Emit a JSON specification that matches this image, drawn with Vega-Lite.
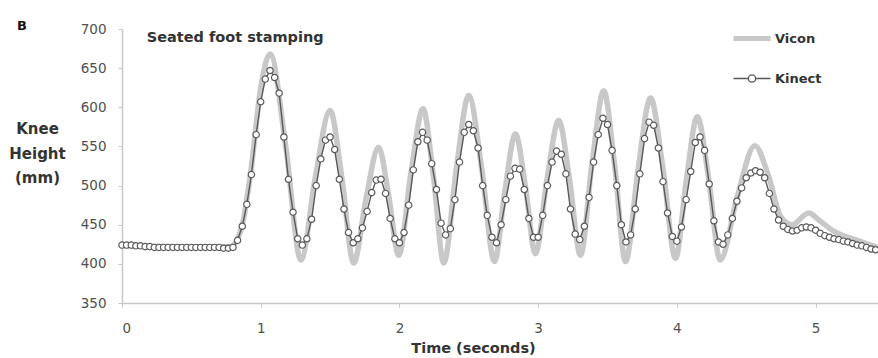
{
  "$schema": "https://vega.github.io/schema/vega-lite/v6.json",
  "width": 756,
  "height": 274,
  "autosize": {"type": "none"},
  "padding": {"left": 122, "top": 29, "right": 0, "bottom": 55},
  "background": "white",
  "title": {"text": "B", "anchor": "start", "frame": "group", "dx": -105, "dy": 25, "offset": 1, "baseline": "bottom", "fontSize": 13, "font": "DejaVu Sans", "fontWeight": "bold", "color": "#111111"},
  "datasets": {
    "vicon": [
      {"t": 0, "v": 423, "s": "Vicon"}, {"t": 0.4, "v": 422, "s": "Vicon"}, {"t": 0.78, "v": 422, "s": "Vicon"},
      {"t": 0.86, "v": 445, "s": "Vicon"}, {"t": 0.93, "v": 520, "s": "Vicon"}, {"t": 1.0, "v": 625, "s": "Vicon"},
      {"t": 1.068, "v": 668, "s": "Vicon"}, {"t": 1.179, "v": 552, "s": "Vicon"}, {"t": 1.29, "v": 405, "s": "Vicon"},
      {"t": 1.395, "v": 512, "s": "Vicon"}, {"t": 1.5, "v": 596, "s": "Vicon"}, {"t": 1.585, "v": 510, "s": "Vicon"},
      {"t": 1.67, "v": 401, "s": "Vicon"}, {"t": 1.76, "v": 484, "s": "Vicon"}, {"t": 1.85, "v": 549, "s": "Vicon"},
      {"t": 1.922, "v": 488, "s": "Vicon"}, {"t": 1.995, "v": 411, "s": "Vicon"}, {"t": 2.083, "v": 516, "s": "Vicon"},
      {"t": 2.17, "v": 598, "s": "Vicon"}, {"t": 2.245, "v": 512, "s": "Vicon"}, {"t": 2.32, "v": 401, "s": "Vicon"},
      {"t": 2.41, "v": 521, "s": "Vicon"}, {"t": 2.5, "v": 615, "s": "Vicon"}, {"t": 2.593, "v": 522, "s": "Vicon"},
      {"t": 2.685, "v": 403, "s": "Vicon"}, {"t": 2.761, "v": 494, "s": "Vicon"}, {"t": 2.836, "v": 566, "s": "Vicon"},
      {"t": 2.908, "v": 499, "s": "Vicon"}, {"t": 2.98, "v": 413, "s": "Vicon"}, {"t": 3.064, "v": 508, "s": "Vicon"},
      {"t": 3.148, "v": 583, "s": "Vicon"}, {"t": 3.227, "v": 507, "s": "Vicon"}, {"t": 3.305, "v": 411, "s": "Vicon"},
      {"t": 3.389, "v": 529, "s": "Vicon"}, {"t": 3.473, "v": 621, "s": "Vicon"}, {"t": 3.552, "v": 525, "s": "Vicon"},
      {"t": 3.63, "v": 403, "s": "Vicon"}, {"t": 3.72, "v": 520, "s": "Vicon"}, {"t": 3.81, "v": 612, "s": "Vicon"},
      {"t": 3.9, "v": 522, "s": "Vicon"}, {"t": 3.99, "v": 407, "s": "Vicon"}, {"t": 4.069, "v": 508, "s": "Vicon"},
      {"t": 4.147, "v": 588, "s": "Vicon"}, {"t": 4.23, "v": 508, "s": "Vicon"}, {"t": 4.312, "v": 405, "s": "Vicon"},
      {"t": 4.437, "v": 487, "s": "Vicon"}, {"t": 4.562, "v": 551, "s": "Vicon"}, {"t": 4.656, "v": 515, "s": "Vicon"},
      {"t": 4.75, "v": 460, "s": "Vicon"}, {"t": 4.83, "v": 450, "s": "Vicon"}, {"t": 4.95, "v": 465, "s": "Vicon"},
      {"t": 5.03, "v": 455, "s": "Vicon"}, {"t": 5.12, "v": 443, "s": "Vicon"}, {"t": 5.3, "v": 430, "s": "Vicon"},
      {"t": 5.45, "v": 421, "s": "Vicon"}
    ],
    "kinect": [
      {"t": 0, "v": 424}, {"t": 0.033, "v": 424}, {"t": 0.067, "v": 424}, {"t": 0.1, "v": 423}, {"t": 0.133, "v": 423},
      {"t": 0.167, "v": 422}, {"t": 0.2, "v": 422}, {"t": 0.233, "v": 421}, {"t": 0.267, "v": 421}, {"t": 0.3, "v": 421},
      {"t": 0.333, "v": 421}, {"t": 0.367, "v": 421}, {"t": 0.4, "v": 421}, {"t": 0.433, "v": 421}, {"t": 0.467, "v": 421},
      {"t": 0.5, "v": 421}, {"t": 0.533, "v": 421}, {"t": 0.567, "v": 421}, {"t": 0.6, "v": 421}, {"t": 0.633, "v": 421},
      {"t": 0.667, "v": 421}, {"t": 0.7, "v": 421}, {"t": 0.733, "v": 420}, {"t": 0.767, "v": 420}, {"t": 0.8, "v": 421},
      {"t": 0.833, "v": 430}, {"t": 0.867, "v": 448}, {"t": 0.9, "v": 476}, {"t": 0.933, "v": 514}, {"t": 0.967, "v": 565},
      {"t": 1.0, "v": 607}, {"t": 1.033, "v": 636}, {"t": 1.067, "v": 647}, {"t": 1.1, "v": 638}, {"t": 1.133, "v": 618},
      {"t": 1.167, "v": 562}, {"t": 1.2, "v": 508}, {"t": 1.233, "v": 466}, {"t": 1.267, "v": 432}, {"t": 1.3, "v": 424},
      {"t": 1.333, "v": 432}, {"t": 1.367, "v": 457}, {"t": 1.4, "v": 500}, {"t": 1.433, "v": 534}, {"t": 1.467, "v": 558},
      {"t": 1.5, "v": 562}, {"t": 1.533, "v": 546}, {"t": 1.567, "v": 508}, {"t": 1.6, "v": 470}, {"t": 1.633, "v": 440},
      {"t": 1.667, "v": 427}, {"t": 1.7, "v": 432}, {"t": 1.733, "v": 446}, {"t": 1.767, "v": 467}, {"t": 1.8, "v": 491},
      {"t": 1.833, "v": 507}, {"t": 1.867, "v": 508}, {"t": 1.9, "v": 490}, {"t": 1.933, "v": 458}, {"t": 1.967, "v": 432},
      {"t": 2.0, "v": 427}, {"t": 2.033, "v": 440}, {"t": 2.067, "v": 475}, {"t": 2.1, "v": 520}, {"t": 2.133, "v": 556},
      {"t": 2.167, "v": 568}, {"t": 2.2, "v": 558}, {"t": 2.233, "v": 528}, {"t": 2.267, "v": 495}, {"t": 2.3, "v": 452},
      {"t": 2.333, "v": 437}, {"t": 2.367, "v": 445}, {"t": 2.4, "v": 482}, {"t": 2.433, "v": 530}, {"t": 2.467, "v": 568},
      {"t": 2.5, "v": 578}, {"t": 2.533, "v": 570}, {"t": 2.567, "v": 548}, {"t": 2.6, "v": 500}, {"t": 2.633, "v": 462},
      {"t": 2.667, "v": 434}, {"t": 2.7, "v": 427}, {"t": 2.733, "v": 450}, {"t": 2.767, "v": 482}, {"t": 2.8, "v": 512},
      {"t": 2.833, "v": 522}, {"t": 2.867, "v": 521}, {"t": 2.9, "v": 495}, {"t": 2.933, "v": 458}, {"t": 2.967, "v": 434},
      {"t": 3.0, "v": 434}, {"t": 3.033, "v": 462}, {"t": 3.067, "v": 500}, {"t": 3.1, "v": 530}, {"t": 3.133, "v": 544},
      {"t": 3.167, "v": 540}, {"t": 3.2, "v": 515}, {"t": 3.233, "v": 470}, {"t": 3.267, "v": 438}, {"t": 3.3, "v": 431},
      {"t": 3.333, "v": 448}, {"t": 3.367, "v": 485}, {"t": 3.4, "v": 530}, {"t": 3.433, "v": 565}, {"t": 3.467, "v": 586},
      {"t": 3.5, "v": 578}, {"t": 3.533, "v": 545}, {"t": 3.567, "v": 500}, {"t": 3.6, "v": 450}, {"t": 3.633, "v": 428},
      {"t": 3.667, "v": 437}, {"t": 3.7, "v": 470}, {"t": 3.733, "v": 515}, {"t": 3.767, "v": 560}, {"t": 3.8, "v": 581},
      {"t": 3.833, "v": 577}, {"t": 3.867, "v": 548}, {"t": 3.9, "v": 505}, {"t": 3.933, "v": 465}, {"t": 3.967, "v": 435},
      {"t": 4.0, "v": 429}, {"t": 4.033, "v": 447}, {"t": 4.067, "v": 482}, {"t": 4.1, "v": 518}, {"t": 4.133, "v": 555},
      {"t": 4.167, "v": 562}, {"t": 4.2, "v": 545}, {"t": 4.233, "v": 502}, {"t": 4.267, "v": 455}, {"t": 4.3, "v": 428},
      {"t": 4.333, "v": 425}, {"t": 4.367, "v": 437}, {"t": 4.4, "v": 458}, {"t": 4.433, "v": 480}, {"t": 4.467, "v": 497},
      {"t": 4.5, "v": 510}, {"t": 4.533, "v": 516}, {"t": 4.567, "v": 519}, {"t": 4.6, "v": 517}, {"t": 4.633, "v": 510},
      {"t": 4.667, "v": 490}, {"t": 4.7, "v": 470}, {"t": 4.733, "v": 456}, {"t": 4.767, "v": 448}, {"t": 4.8, "v": 444},
      {"t": 4.833, "v": 442}, {"t": 4.867, "v": 443}, {"t": 4.9, "v": 446}, {"t": 4.933, "v": 447}, {"t": 4.967, "v": 446},
      {"t": 5.0, "v": 443}, {"t": 5.033, "v": 439}, {"t": 5.067, "v": 436}, {"t": 5.1, "v": 434}, {"t": 5.133, "v": 432},
      {"t": 5.167, "v": 431}, {"t": 5.2, "v": 429}, {"t": 5.233, "v": 428}, {"t": 5.267, "v": 426}, {"t": 5.3, "v": 424},
      {"t": 5.333, "v": 423}, {"t": 5.367, "v": 421}, {"t": 5.4, "v": 419}, {"t": 5.433, "v": 418}
    ]
  },
  "layer": [
    {
      "data": {"name": "vicon"},
      "mark": {"type": "line", "interpolate": "monotone", "strokeWidth": 5.5, "strokeCap": "round", "strokeJoin": "round"},
      "encoding": {
        "x": {"field": "t", "type": "quantitative", "scale": {"domain": [0, 5.45], "nice": false, "zero": false},
              "axis": {"values": [0, 1, 2, 3, 4, 5], "title": "Time (seconds)"}},
        "y": {"field": "v", "type": "quantitative", "scale": {"domain": [350, 700], "nice": false, "zero": false},
              "axis": {"values": [350, 400, 450, 500, 550, 600, 650, 700], "title": ["Knee", "Height", "(mm)"]}},
        "color": {
          "field": "s", "type": "nominal",
          "scale": {"domain": ["Vicon", "Kinect"], "range": ["#c8c8c8", "#595959"]},
          "legend": {
            "orient": "none", "legendX": 623.5, "legendY": 3, "title": null,
            "symbolSize": 1369, "symbolType": "stroke",
            "labelFont": "DejaVu Sans", "labelFontSize": 13, "labelFontWeight": "bold", "labelColor": "#333333",
            "labelOffset": 16.5, "rowPadding": 23,
            "encode": {
              "symbols": {
                "update": {
                  "shape": {"signal": "datum.value === 'Kinect' ? 'M-1,0H-0.2M0.2,0H1M0.2,0A0.2,0.2 0 1,1 -0.2,0A0.2,0.2 0 1,1 0.2,0Z' : 'stroke'"},
                  "strokeWidth": {"signal": "datum.value === 'Kinect' ? 1.3 : 5"},
                  "fill": {"value": "white"}
                }
              }
            }
          }
        }
      }
    },
    {
      "data": {"name": "kinect"},
      "mark": {"type": "line", "color": "#595959", "strokeWidth": 1.4},
      "encoding": {
        "x": {"field": "t", "type": "quantitative", "axis": {"values": [0, 1, 2, 3, 4, 5], "title": "Time (seconds)"}},
        "y": {"field": "v", "type": "quantitative", "axis": {"values": [350, 400, 450, 500, 550, 600, 650, 700], "title": ["Knee", "Height", "(mm)"]}}
      }
    },
    {
      "data": {"name": "kinect"},
      "mark": {"type": "point", "shape": "circle", "filled": true, "fill": "#ffffff", "stroke": "#595959", "strokeWidth": 1.2, "size": 40, "opacity": 1},
      "encoding": {
        "x": {"field": "t", "type": "quantitative", "axis": {"values": [0, 1, 2, 3, 4, 5], "title": "Time (seconds)"}},
        "y": {"field": "v", "type": "quantitative", "axis": {"values": [350, 400, 450, 500, 550, 600, 650, 700], "title": ["Knee", "Height", "(mm)"]}}
      }
    },
    {
      "data": {"values": [{"label": "Seated foot stamping"}]},
      "mark": {"type": "text", "align": "left", "baseline": "middle", "font": "DejaVu Sans", "fontSize": 14.5, "fontWeight": "bold", "color": "#333333"},
      "encoding": {
        "x": {"datum": 0.178, "type": "quantitative", "axis": {"values": [0, 1, 2, 3, 4, 5], "title": "Time (seconds)"}},
        "y": {"datum": 688, "type": "quantitative", "axis": {"values": [350, 400, 450, 500, 550, 600, 650, 700], "title": ["Knee", "Height", "(mm)"]}},
        "text": {"field": "label"}
      }
    }
  ],
  "config": {
    "view": {"stroke": null},
    "axisX": {
      "format": "d", "grid": false, "labelOverlap": false, "labelBound": false,
      "domainColor": "#c8c8c8", "domainWidth": 1.5, "tickColor": "#c8c8c8", "tickSize": 4,
      "labelPadding": 14, "labelFont": "DejaVu Sans", "labelFontSize": 13.5, "labelColor": "#505050",
      "titleFont": "DejaVu Sans", "titleFontSize": 14.5, "titleFontWeight": "bold",
      "titleColor": "#333333", "titleX": 351, "titleY": 45, "titleAlign": "center", "titleBaseline": "middle"
    },
    "axisY": {
      "grid": false, "labelOverlap": false, "labelBound": false,
      "domainColor": "#c8c8c8", "domainWidth": 1.5, "tickColor": "#c8c8c8", "tickSize": 4,
      "labelPadding": 12, "labelFont": "DejaVu Sans", "labelFontSize": 13.5, "labelColor": "#505050",
      "titleAngle": 0, "titleX": -85, "titleY": 99.5,
      "titleAlign": "center", "titleBaseline": "middle", "titleFont": "DejaVu Sans", "titleFontSize": 15,
      "titleFontWeight": "bold", "titleColor": "#333333", "titleLineHeight": 24.5
    }
  }
}
